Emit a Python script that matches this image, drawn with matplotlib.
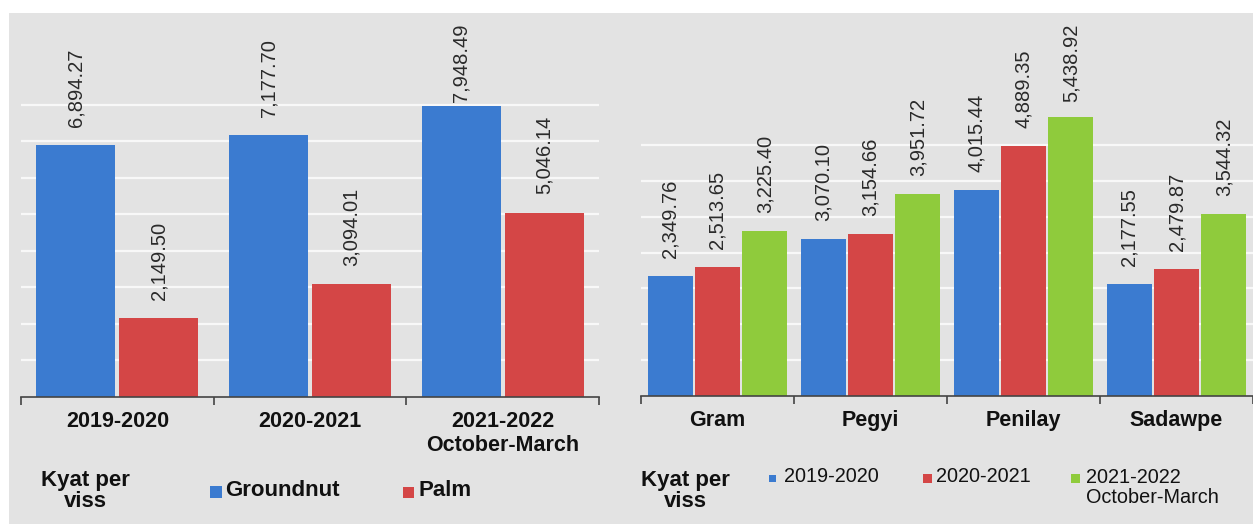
import numpy as np
import matplotlib
matplotlib.use("Agg")
import matplotlib.pyplot as plt
from matplotlib.patches import Rectangle
from matplotlib.ticker import FixedLocator

plt.rcParams["font.family"] = ["Liberation Sans", "DejaVu Sans"]

# ── Data ─────────────────────────────────────────────────────────────────────
oil_years = ["2019-2020", "2020-2021", "2021-2022\nOctober-March"]
oil_names = ["Groundnut", "Palm"]
groundnut = [6894.27, 7177.70, 7948.49]
palm = [2149.50, 3094.01, 5046.14]

pulse_names = ["Gram", "Pegyi", "Penilay", "Sadawpe"]
pulse_years = ["2019-2020", "2020-2021", "2021-2022\nOctober-March"]
pulse_2019 = [2349.76, 3070.10, 4015.44, 2177.55]
pulse_2020 = [2513.65, 3154.66, 4889.35, 2479.87]
pulse_2021 = [3225.40, 3951.72, 5438.92, 3544.32]

unit_label = "Kyat per\nviss"

BLUE = "#3b7bd0"
RED = "#d44646"
GREEN = "#8fcb3c"
PANEL = "#e3e3e3"

W, H = 1253, 524
LABEL_TOP = 24  # labels are kept below this pixel row


def px_axes(fig, x0, y0, x1, y1):
    # pixel box (top-left origin) -> figure axes
    return fig.add_axes([x0 / W, 1 - y1 / H, (x1 - x0) / W, (y1 - y0) / H])


def fx(x):
    return x / W


def fy(y):
    return 1 - y / H


def style_axes(ax, n_groups, labels, ymax, grid_lines):
    ax.set_facecolor("none")
    ax.set_xlim(-0.5, n_groups - 0.5)
    ax.set_ylim(0, ymax)
    for s in ["left", "right", "top"]:
        ax.spines[s].set_visible(False)
    ax.spines["bottom"].set_color("#444444")
    ax.spines["bottom"].set_linewidth(1.2)
    ax.yaxis.set_major_locator(FixedLocator(grid_lines))
    ax.tick_params(axis="y", left=False, labelleft=False)
    ax.grid(axis="y", color="#f8f8f8", linewidth=1.6, zorder=0)
    ax.set_axisbelow(True)
    ax.set_xticks(range(n_groups))
    ax.set_xticklabels(labels, fontsize=15.5, fontweight="bold", color="#111111",
                       linespacing=1.2)
    ax.tick_params(axis="x", which="major", length=0, pad=10)
    ax.xaxis.set_minor_locator(FixedLocator(np.arange(-0.5, n_groups, 1.0)))
    ax.tick_params(axis="x", which="minor", length=6, width=1.2, color="#444444")


annotations = []


def value_labels(ax, bars):
    for b in bars:
        v = b.get_height()
        a = ax.annotate(f"{v:,.2f}", (b.get_x() + b.get_width() / 2, v),
                        xytext=(0, 13), textcoords="offset points",
                        rotation=90, ha="center", va="bottom",
                        fontsize=14.5, color="#2a2a2a")
        annotations.append(a)


fig = plt.figure(figsize=(W / 100, H / 100), dpi=100, facecolor="white")
fig.patches.append(Rectangle((fx(9), 0), 1 - fx(9), fy(13), transform=fig.transFigure,
                             facecolor=PANEL, edgecolor="none", zorder=-10))

# ── Left panel: edible oil ───────────────────────────────────────────────────
ax1 = px_axes(fig, 21, 15, 599, 397)
x = np.arange(len(oil_years))
w = 0.41
b1 = ax1.bar(x - 0.215, groundnut, w, color=BLUE, zorder=2)
b2 = ax1.bar(x + 0.215, palm, w, color=RED, zorder=2)
value_labels(ax1, b1)
value_labels(ax1, b2)
style_axes(ax1, len(oil_years), oil_years, 10450, np.arange(1000, 8001, 1000))

# ── Right panel: pulses ──────────────────────────────────────────────────────
ax2 = px_axes(fig, 641, 15, 1253, 396)
x = np.arange(len(pulse_names))
w = 0.295
for vals, off, c in [(pulse_2019, -0.31, BLUE), (pulse_2020, 0.0, RED), (pulse_2021, 0.31, GREEN)]:
    bars = ax2.bar(x + off, vals, w, color=c, zorder=2)
    value_labels(ax2, bars)
style_axes(ax2, len(pulse_names), pulse_names, 7440, np.arange(700, 4901, 700))

# ── Legends ──────────────────────────────────────────────────────────────────
fig.text(fx(85), fy(491), unit_label, ha="center", va="center", fontsize=16,
         fontweight="bold", linespacing=1.0, color="#111111")
fig.text(fx(685), fy(491), unit_label, ha="center", va="center", fontsize=16,
         fontweight="bold", linespacing=1.0, color="#111111")


def legend_item(xs, yc, size, color, label, fs, weight, gap, va="center", ty=None):
    fig.patches.append(Rectangle((fx(xs), fy(yc + size / 2)), size / W, size / H,
                                 transform=fig.transFigure, facecolor=color,
                                 edgecolor="none"))
    fig.text(fx(xs + size + gap), fy(ty if ty is not None else yc), label,
             ha="left", va=va, fontsize=fs, fontweight=weight, color="#111111",
             linespacing=1.05)


legend_item(210, 492, 12, BLUE, oil_names[0], 16, "bold", 3, ty=491)
legend_item(403, 492, 11, RED, oil_names[1], 16, "bold", 5, ty=491)

legend_item(769, 478, 7, BLUE, pulse_years[0], 14.3, "normal", 8, ty=477)
legend_item(923, 478, 9, RED, pulse_years[1], 14.3, "normal", 4, ty=477)
legend_item(1071, 478, 9, GREEN, pulse_years[2], 14.3, "normal", 6, va="top", ty=468)

# push down any value label that would run past the top of the panel
fig.canvas.draw()
renderer = fig.canvas.get_renderer()
for a in annotations:
    top = a.get_window_extent(renderer).y1
    over = top - (H - LABEL_TOP)
    if over > 0:
        dx, dy = a.xyann
        a.xyann = (dx, dy - over * 72 / fig.dpi)

fig.savefig("out.png", dpi=100, facecolor=fig.get_facecolor())
